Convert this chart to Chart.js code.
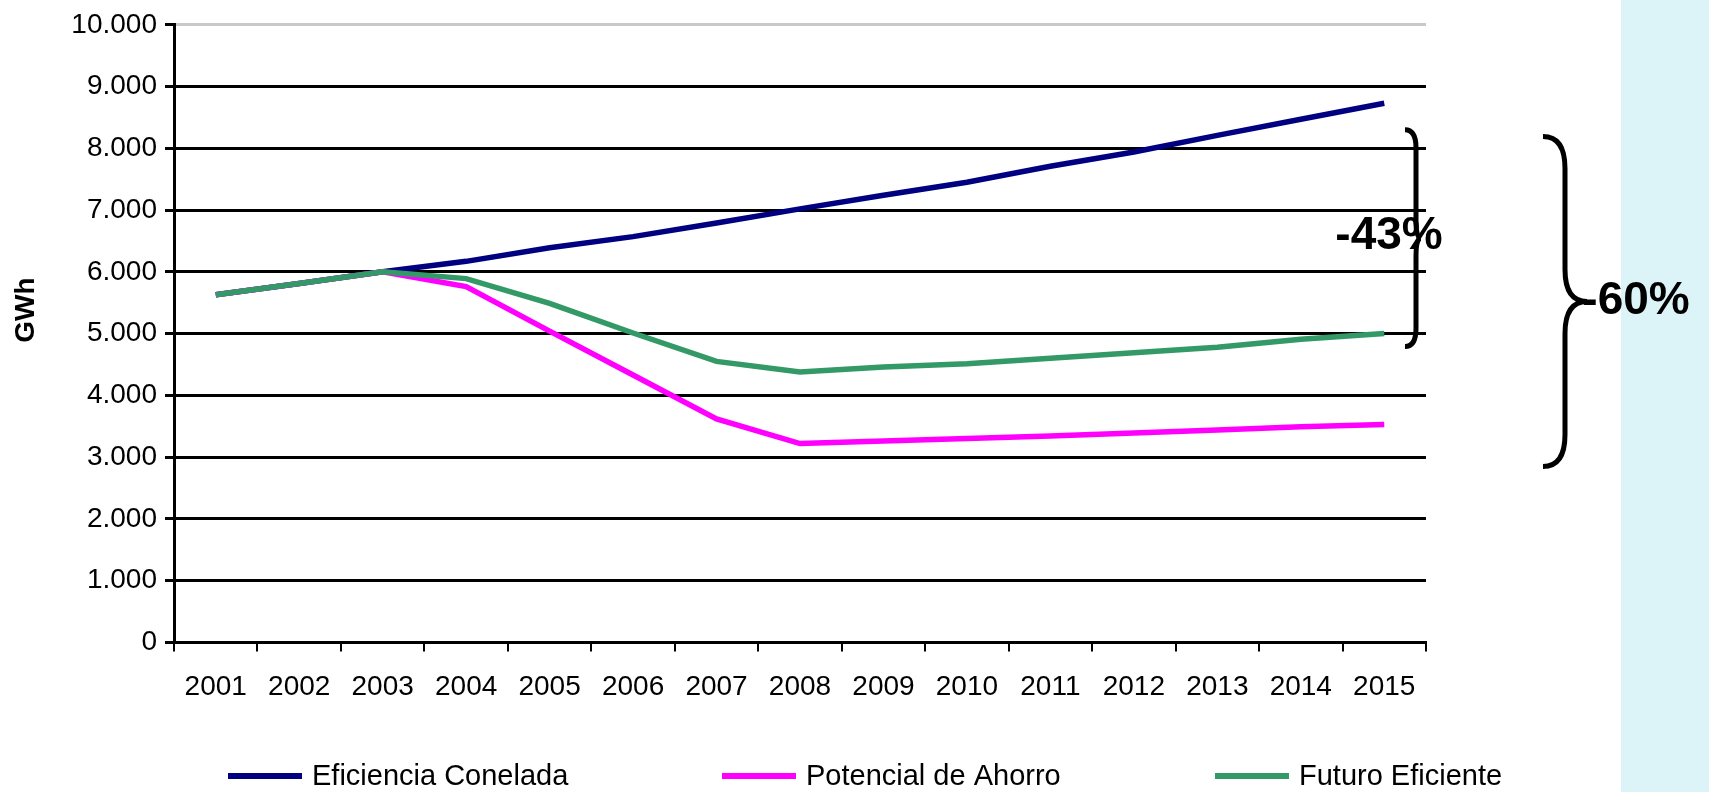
<!DOCTYPE html>
<html>
<head>
<meta charset="utf-8">
<script src="https://cdn.jsdelivr.net/npm/chart.js@4.4.1/dist/chart.umd.min.js"></script>
<style>
    html, body { margin: 0; padding: 0; background: #fff; }
    #wrap { width: 1709px; height: 792px; }
</style>
</head>
<body>
<div id="wrap"><canvas id="chart" width="1709" height="792"></canvas></div>
<script>
// GWh per year, 2001-2015
const years = ['2001', '2002', '2003', '2004', '2005', '2006', '2007', '2008',
    '2009', '2010', '2011', '2012', '2013', '2014', '2015']
const eficienciaConelada = [5630, 5810, 6000, 6170, 6390, 6570, 6790, 7020, 7240, 7450, 7710, 7940, 8210, 8470, 8730]
const potencialAhorro = [5630, 5810, 6000, 5760, 5040, 4330, 3620, 3220, 3260, 3300, 3340, 3390, 3440, 3490, 3530]
const futuroEficiente = [5630, 5810, 6000, 5890, 5490, 5010, 4550, 4380, 4460, 4510, 4600, 4690, 4780, 4910, 5000]
const seriesNames = ['Eficiencia Conelada', 'Potencial de Ahorro', 'Futuro Eficiente']
const yMax = 10000
const yStep = 1000
const savingLabels = ['-43%', '-60%']

const FONT = '"Liberation Sans", Arial, sans-serif'
Chart.defaults.font.family = FONT
Chart.defaults.color = '#000'

// thousands with a dot: 10.000
function fmt(v) {
    return String(v).replace(/\B(?=(\d{3})+(?!\d))/g, '.')
}

// right-facing curly brace
function brace(ctx, x, top, bottom, d, tip, r) {
    const mid = (top + bottom) / 2
    ctx.beginPath()
    ctx.moveTo(x, top)
    ctx.quadraticCurveTo(x + d, top, x + d, top + r)
    ctx.lineTo(x + d, mid - r)
    ctx.quadraticCurveTo(x + d, mid, x + d + tip, mid)
    ctx.quadraticCurveTo(x + d, mid, x + d, mid + r)
    ctx.lineTo(x + d, bottom - r)
    ctx.quadraticCurveTo(x + d, bottom, x, bottom)
    ctx.stroke()
}

// pale panel at the right edge
const panelPlugin = {
    id: 'panel',
    beforeDraw(chart) {
        const ctx = chart.ctx
        ctx.save()
        ctx.fillStyle = '#dcf4f8'
        ctx.fillRect(1621, 0, chart.width - 1621, chart.height)
        ctx.restore()
    }
}

// braces with the saving percentages, plus the GWh axis name
const savingsPlugin = {
    id: 'savings',
    afterDraw(chart) {
        const ctx = chart.ctx
        const y = chart.scales.y
        const right = chart.chartArea.right
        ctx.save()
        ctx.strokeStyle = '#000'
        ctx.lineWidth = 5
        ctx.lineCap = 'butt'
        brace(ctx, right - 21, y.getPixelForValue(8300), y.getPixelForValue(4790), 11, 5, 18)
        brace(ctx, right + 117, y.getPixelForValue(8190), y.getPixelForValue(2850), 22, 22, 32)

        ctx.fillStyle = '#000'
        ctx.font = 'bold 46px ' + FONT
        ctx.textAlign = 'center'
        ctx.textBaseline = 'middle'
        ctx.fillText(savingLabels[0], right - 37, y.getPixelForValue(6570))
        ctx.fillText(savingLabels[1], right + 210, y.getPixelForValue(5520))

        ctx.translate(26, y.getPixelForValue(5380))
        ctx.rotate(-Math.PI / 2)
        ctx.font = 'bold 28px ' + FONT
        ctx.fillText('GWh', 0, 0)
        ctx.restore()
    }
}

// legend row under the axis, spread wide
const legendPlugin = {
    id: 'wideLegend',
    afterDraw(chart) {
        const ctx = chart.ctx
        const starts = [228, 722, 1215]
        const ly = 776
        ctx.save()
        ctx.font = '29px ' + FONT
        ctx.textBaseline = 'middle'
        ctx.textAlign = 'left'
        chart.data.datasets.forEach((ds, i) => {
            ctx.fillStyle = ds.borderColor
            ctx.fillRect(starts[i], ly - 3, 74, 6)
            ctx.fillStyle = '#000'
            ctx.fillText(ds.label, starts[i] + 84, ly + 1)
        })
        ctx.restore()
    }
}

const ctx = document.getElementById('chart').getContext('2d')
new Chart(ctx, {
    type: 'line',
    data: {
        labels: years,
        datasets: [
            {
                label: seriesNames[0],
                data: eficienciaConelada,
                borderColor: '#000080',
                backgroundColor: '#000080',
                order: 2
            },
            {
                label: seriesNames[1],
                data: potencialAhorro,
                borderColor: '#ff00ff',
                backgroundColor: '#ff00ff',
                order: 1
            },
            {
                label: seriesNames[2],
                data: futuroEficiente,
                borderColor: '#339966',
                backgroundColor: '#339966',
                order: 0
            }
        ]
    },
    options: {
        responsive: false,
        devicePixelRatio: 1,
        animation: false,
        layout: {
            padding: { top: 21, right: 283, bottom: 69, left: 0 }
        },
        elements: {
            line: { borderWidth: 5.5, tension: 0, borderCapStyle: 'butt' },
            point: { radius: 0, hoverRadius: 0 }
        },
        plugins: {
            legend: { display: false },
            tooltip: { enabled: false }
        },
        scales: {
            x: {
                offset: true,
                grid: {
                    offset: true,
                    drawOnChartArea: false,
                    color: '#000',
                    lineWidth: 2,
                    tickLength: 9
                },
                border: { color: '#000', width: 3 },
                ticks: {
                    font: { size: 28 },
                    color: '#000',
                    padding: 19,
                    autoSkip: false,
                    maxRotation: 0
                }
            },
            y: {
                min: 0,
                max: yMax,
                afterFit: s => { s.width = 174 },
                grid: {
                    color: c => c.tick && c.tick.value === yMax ? '#c8c8c8' : '#000',
                    tickColor: '#000',
                    lineWidth: 3,
                    tickLength: 9
                },
                border: { color: '#000', width: 3 },
                ticks: {
                    stepSize: yStep,
                    font: { size: 28 },
                    color: '#000',
                    padding: 8,
                    callback: v => fmt(v)
                }
            }
        }
    },
    plugins: [panelPlugin, savingsPlugin, legendPlugin]
})
</script>
</body>
</html>
